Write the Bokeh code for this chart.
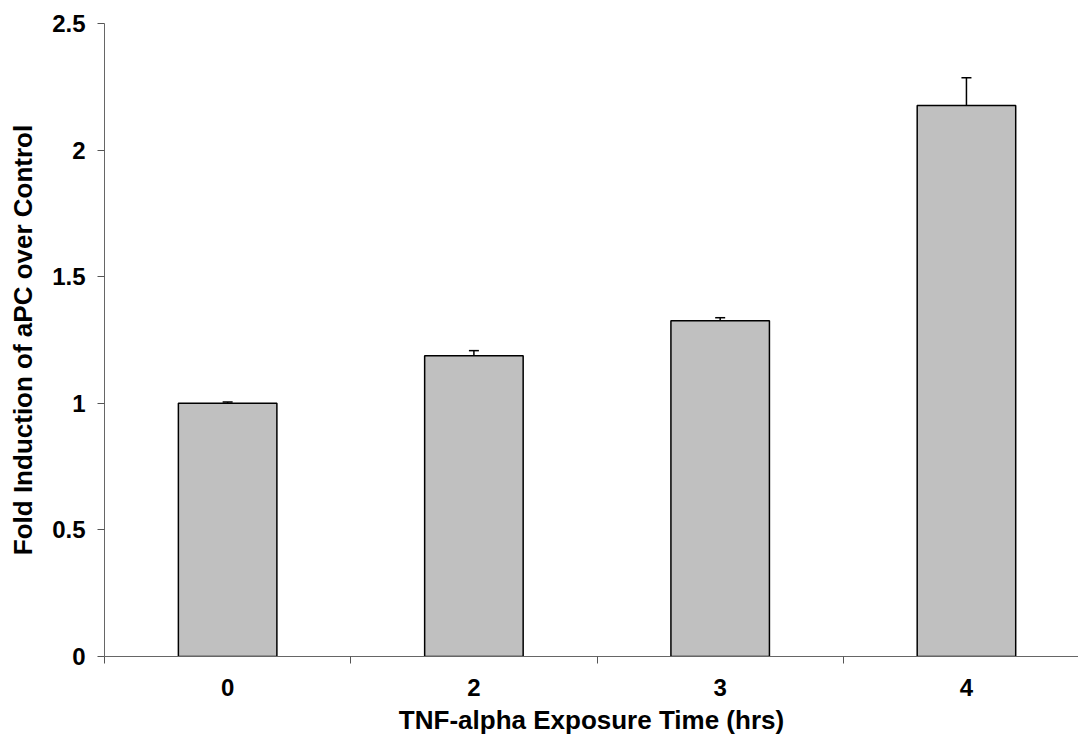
from bokeh.plotting import figure
from bokeh.models import ColumnDataSource, FixedTicker, Range1d, Whisker, TeeHead, Title
from bokeh.embed import file_html
from bokeh.resources import INLINE

categories = ["0", "2", "3", "4"]
values = [1.0, 1.188, 1.326, 2.176]
errors = [0.005, 0.02, 0.012, 0.11]
y_ticks = [0, 0.5, 1, 1.5, 2, 2.5]
x_title = "TNF-alpha Exposure Time (hrs)"
y_title = "Fold Induction of aPC over Control"

xpos = [i + 0.5 for i in range(len(categories))]
tops_err = [v + e for v, e in zip(values, errors)]
src = ColumnDataSource(dict(x=xpos, top=values, upper=tops_err))

FONT = "Liberation Sans"

p = figure(width=1078, height=744, output_backend="svg", toolbar_location=None,
           x_range=Range1d(0, 3.955), y_range=Range1d(0, 2.5),
           min_border_left=104, min_border_right=0, min_border_top=23, min_border_bottom=88)
p.outline_line_color = None
p.grid.visible = False
p.background_fill_color = "white"
p.border_fill_color = "white"

p.vbar(x="x", top="top", width=0.4, bottom=0, source=src,
       fill_color="#C0C0C0", line_color="black", line_width=1.5)

w = Whisker(base="x", lower="top", upper="upper", source=src,
            line_color="black", line_width=1.5,
            upper_head=TeeHead(size=10, line_color="black", line_width=1.5), lower_head=None)
p.add_layout(w)

xa = p.xaxis[0]
xa.ticker = FixedTicker(ticks=xpos, minor_ticks=[0, 1, 2, 3])
xa.major_label_overrides = {x: c for x, c in zip(xpos, categories)}
xa.major_tick_line_color = None
xa.major_tick_out = 7
xa.minor_tick_line_color = "#555555"
xa.minor_tick_out = 7
xa.minor_tick_in = 0
xa.axis_line_color = "#666666"
xa.major_label_standoff = 15

ya = p.yaxis[0]
ya.ticker = FixedTicker(ticks=y_ticks, minor_ticks=[])
ya.major_label_overrides = {0: "0", 0.5: "0.5", 1: "1", 1.5: "1.5", 2: "2", 2.5: "2.5"}
ya.major_tick_line_color = "#555555"
ya.major_tick_out = 7
ya.major_tick_in = 0
ya.axis_line_color = "#666666"
ya.major_label_standoff = 12
ya.axis_label = y_title
ya.axis_label_standoff = 11

for ax in (xa, ya):
    ax.major_label_text_font = FONT
    ax.major_label_text_font_style = "bold"
    ax.major_label_text_font_size = "24px"
    ax.major_label_text_color = "black"
ya.axis_label_text_font = FONT
ya.axis_label_text_font_style = "bold"
ya.axis_label_text_font_size = "26px"
ya.axis_label_text_color = "black"

xt = Title(text=x_title, align="center", offset=5, standoff=8,
           text_font=FONT, text_font_style="bold", text_font_size="26px", text_color="black")
p.add_layout(xt, "below")

open("out.html", "w").write(file_html(p, INLINE))
